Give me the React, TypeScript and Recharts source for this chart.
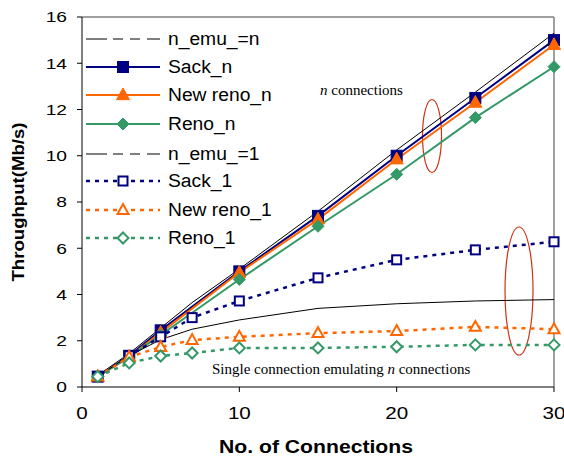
import React from 'react';
import { LineChart, Line, XAxis, YAxis, ReferenceLine, Customized } from 'recharts';

const connections = [1, 3, 5, 7, 10, 15, 20, 25, 30];
const emuN = [0.5, 1.45, 2.55, 3.65, 5.1, 7.6, 10.25, 12.75, 15.3];
const sackN = [0.45, 1.35, 2.45, null, 5.0, 7.4, 10.0, 12.5, 15.0];
const newRenoN = [0.45, 1.3, 2.35, null, 4.95, 7.25, 9.85, 12.3, 14.8];
const renoN = [0.45, 1.3, 2.25, null, 4.65, 6.95, 9.2, 11.65, 13.85];
const emu1 = [0.45, 1.35, 2.05, 2.5, 2.9, 3.4, 3.6, 3.72, 3.78];
const sack1 = [0.45, 1.35, 2.17, 3.0, 3.72, 4.72, 5.5, 5.93, 6.28];
const newReno1 = [0.45, 1.3, 1.73, 2.03, 2.17, 2.33, 2.42, 2.6, 2.5];
const reno1 = [0.45, 1.04, 1.34, 1.47, 1.69, 1.69, 1.74, 1.82, 1.82];

const xTicks = [0, 10, 20, 30];
const yTicks = [0, 2, 4, 6, 8, 10, 12, 14, 16];

const data = connections.map((x, i) => ({
  x,
  emuN: emuN[i],
  sackN: sackN[i],
  newRenoN: newRenoN[i],
  renoN: renoN[i],
  emu1: emu1[i],
  sack1: sack1[i],
  newReno1: newReno1[i],
  reno1: reno1[i],
}));

const NAVY = '#000080';
const ORANGE = '#FF6600';
const GREEN = '#339966';
const FONT = '"Liberation Sans", Arial, sans-serif';
const SERIF = '"Liberation Serif", "Times New Roman", serif';

type Marker = 'none' | 'square' | 'triangle' | 'diamond';

const series: { key: string; name: string; color: string; marker: Marker; filled: boolean; dash?: string; width: number; legendDash?: string }[] = [
  { key: 'emuN', name: 'n_emu_=n', color: '#000', marker: 'none', filled: true, width: 1, legendDash: '21 6 10 7 10 7 14' },
  { key: 'sackN', name: 'Sack_n', color: NAVY, marker: 'square', filled: true, width: 2 },
  { key: 'newRenoN', name: 'New reno_n', color: ORANGE, marker: 'triangle', filled: true, width: 2 },
  { key: 'renoN', name: 'Reno_n', color: GREEN, marker: 'diamond', filled: true, width: 2 },
  { key: 'emu1', name: 'n_emu_=1', color: '#000', marker: 'none', filled: true, width: 1, legendDash: '21 6 10 7 10 7 14' },
  { key: 'sack1', name: 'Sack_1', color: NAVY, marker: 'square', filled: false, dash: '4 5', width: 2.5 },
  { key: 'newReno1', name: 'New reno_1', color: ORANGE, marker: 'triangle', filled: false, dash: '4 5', width: 2.5 },
  { key: 'reno1', name: 'Reno_1', color: GREEN, marker: 'diamond', filled: false, dash: '4 5', width: 2.5 },
];

function MarkerShape({ cx, cy, marker, color, filled }: { cx: number; cy: number; marker: Marker; color: string; filled: boolean }) {
  if (cx == null || cy == null || marker === 'none') return null;
  const fill = filled ? color : '#fff';
  const sw = filled ? 1 : 2;
  if (marker === 'square') {
    const s = filled ? 11 : 9;
    return <rect x={cx - s / 2} y={cy - s / 2} width={s} height={s} fill={fill} stroke={color} strokeWidth={sw} />;
  }
  if (marker === 'triangle') {
    const s = filled ? 13 : 11;
    const h = s * 0.9;
    return (
      <polygon
        points={`${cx},${cy - h * 0.6} ${cx + s / 2},${cy + h * 0.4} ${cx - s / 2},${cy + h * 0.4}`}
        fill={fill}
        stroke={color}
        strokeWidth={sw}
        strokeLinejoin="miter"
      />
    );
  }
  const r = filled ? 6 : 5.5;
  return (
    <polygon
      points={`${cx},${cy - r} ${cx + r},${cy} ${cx},${cy + r} ${cx - r},${cy}`}
      fill={fill}
      stroke={color}
      strokeWidth={sw}
    />
  );
}

function XTick(props: any) {
  const { x, y, payload } = props;
  return (
    <g transform={`translate(${x},${y}) scale(1.25,1)`}>
      <text x={0} y={0} dy="0.71em" textAnchor="middle" fontFamily={FONT} fontSize={16.5} fill="#000">
        {payload.value}
      </text>
    </g>
  );
}

function YTick(props: any) {
  const { x, y, payload } = props;
  return (
    <g transform={`translate(${x},${y}) scale(1.28,1)`}>
      <text x={0} y={0} dy="0.355em" textAnchor="end" fontFamily={FONT} fontSize={15} fill="#000">
        {payload.value}
      </text>
    </g>
  );
}

function Overlay() {
  const rows = [39, 67, 95, 124, 154, 181, 210, 238];
  return (
    <g>
      {series.map((s, i) => {
        const y = rows[i];
        return (
          <g key={s.key}>
            <line
              x1={86}
              x2={160}
              y1={y}
              y2={y}
              stroke={s.color}
              strokeWidth={s.width}
              strokeDasharray={s.legendDash || s.dash}
            />
            <MarkerShape cx={123} cy={y} marker={s.marker} color={s.color} filled={s.filled} />
            <g transform={`translate(168,${y}) scale(1.07,1)`}>
              <text x={0} y={0} dy="0.36em" fontFamily={FONT} fontSize={18} fill="#000">
                {s.name}
              </text>
            </g>
          </g>
        );
      })}
      <text x={320} y={95} fontFamily={SERIF} fontSize={15} fill="#000">
        <tspan fontStyle="italic">n</tspan> connections
      </text>
      <ellipse cx={432} cy={136} rx={9.5} ry={36.5} fill="none" stroke="#CC3311" strokeWidth={1.2} />
      <ellipse cx={519} cy={291} rx={14} ry={64} fill="none" stroke="#CC3311" strokeWidth={1.2} />
      <text x={212} y={374} fontFamily={SERIF} fontSize={15} fill="#000">
        Single connection emulating <tspan fontStyle="italic">n</tspan> connections
      </text>
      <text
        x={0}
        y={0}
        transform="translate(24 202) rotate(-90)"
        textAnchor="middle"
        fontFamily={FONT}
        fontWeight="bold"
        fontSize={16}
        textLength={159}
        lengthAdjust="spacingAndGlyphs"
        fill="#000"
      >
        Throughput(Mb/s)
      </text>
      <text
        x={219}
        y={453}
        fontFamily={FONT}
        fontWeight="bold"
        fontSize={19}
        textLength={194}
        lengthAdjust="spacingAndGlyphs"
        fill="#000"
      >
        No. of Connections
      </text>
    </g>
  );
}

export default function App() {
  return (
    <div style={{ position: 'absolute', left: 0, top: 0, width: 564, height: 457, background: '#fff' }}>
      <LineChart width={564} height={457} data={data} margin={{ top: 17, right: 10, left: 0, bottom: 0 }}>
        <XAxis
          dataKey="x"
          type="number"
          domain={[0, 30]}
          ticks={xTicks}
          height={70}
          tickSize={5}
          tickMargin={15}
          axisLine={{ stroke: '#000', strokeWidth: 1 }}
          tickLine={{ stroke: '#000' }}
          tick={<XTick />}
        />
        <YAxis
          type="number"
          domain={[0, 16]}
          ticks={yTicks}
          width={82}
          tickSize={5}
          tickMargin={10}
          axisLine={{ stroke: '#000', strokeWidth: 1 }}
          tickLine={{ stroke: '#000' }}
          tick={<YTick />}
        />
        <ReferenceLine y={16} stroke="#808080" strokeWidth={1.5} />
        <ReferenceLine x={30} stroke="#808080" strokeWidth={1.5} />
        {series.map((s) => (
          <Line
            key={s.key}
            dataKey={s.key}
            type="linear"
            stroke={s.color}
            strokeWidth={s.width}
            strokeDasharray={s.dash}
            connectNulls
            isAnimationActive={false}
            dot={(p: any) => (
              <MarkerShape key={`${s.key}-${p.index}`} cx={p.cx} cy={p.cy} marker={s.marker} color={s.color} filled={s.filled} />
            )}
            activeDot={false}
          />
        ))}
        <Customized component={<Overlay />} />
      </LineChart>
    </div>
  );
}
